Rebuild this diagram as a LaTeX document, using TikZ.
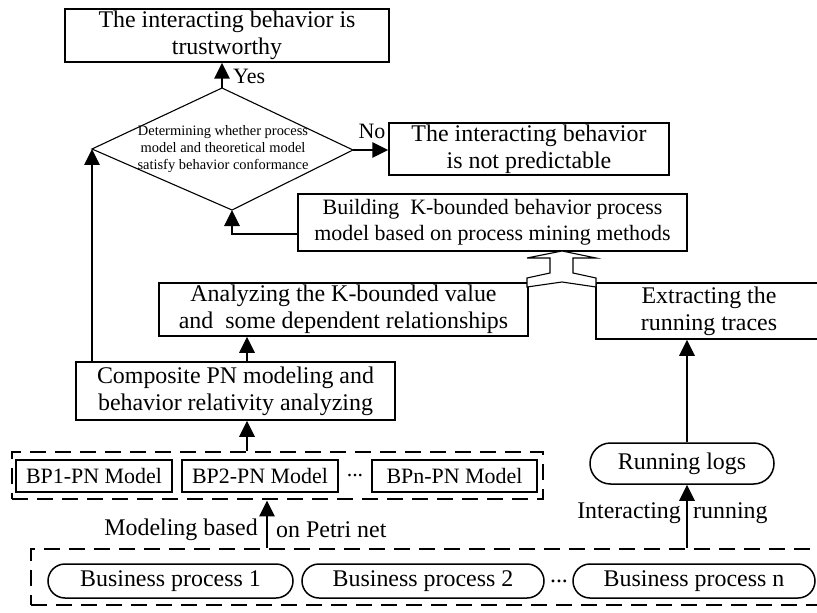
\documentclass[tikz,border=0pt]{standalone}
\usepackage{fontspec}
\setmainfont{Liberation Serif}
\usetikzlibrary{arrows.meta,shapes.misc,calc}
\begin{document}
\begin{tikzpicture}[x=1bp,y=-1bp,
  box/.style={draw, line width=1.5bp, inner sep=0pt, align=center, font=\fontsize{24}{27}\selectfont},
  smallbox/.style={box, font=\fontsize{22}{26}\selectfont},
  pill/.style={box, rounded rectangle},
  grp/.style={draw, line width=2.8bp, dash pattern=on 16bp off 9bp, inner sep=0pt},
  arr/.style={line width=2.8bp, -{Triangle[width=15bp,length=16bp]}},
  lbl/.style={inner sep=0pt, font=\fontsize{24}{27}\selectfont},
  slbl/.style={inner sep=0pt, font=\fontsize{22}{26}\selectfont}]
\useasboundingbox (0,0) rectangle (817,613);

% top decision area
\node[box, minimum width=324bp, minimum height=53bp] (top) at (227,35.5) {The interacting behavior is\\trustworthy};
\coordinate (dT) at (222,88);
\coordinate (dR) at (353,150);
\coordinate (dB) at (232,210);
\coordinate (dL) at (92,149);
\draw[line width=1.1bp] (dT) -- (dR) -- (dB) -- (dL) -- cycle;
\node[inner sep=0pt, align=center, font=\fontsize{14.5}{17.5}\selectfont] (dtx) at (223,149) {Determining whether process\\model and theoretical model\\satisfy behavior conformance};
\node[box, minimum width=280bp, minimum height=52bp] (np) at (529,149) {The interacting behavior\\is not predictable};
\node[smallbox, minimum width=389bp, minimum height=57bp] (bld) at (492.5,222.5) {Building\ \ K-bounded behavior process\\model based on process mining methods};

% middle
\node[box, minimum width=369bp, minimum height=53bp] (ana) at (343.5,309.5) {Analyzing the K-bounded value\\and\ \ some dependent relationships};
\node[box, minimum width=226bp, minimum height=56bp] (ext) at (709,311) {Extracting the\\running traces};
\node[box, minimum width=319bp, minimum height=58bp] (comp) at (235.5,391) {Composite PN modeling and\\behavior relativity analyzing};

% hollow merge arrow
\draw[line width=1.1bp, fill=white] (527,258) -- (550,258) -- (550,273) -- (527,278) -- (527,287) -- (562,282) -- (596,287) -- (596,278) -- (573,273) -- (573,258) -- (596,258) -- (562,251) -- cycle;

% PN models group
\node[grp, minimum width=531bp, minimum height=47bp] (grp1) at (277.5,475.5) {};
\node[smallbox, minimum width=156bp, minimum height=32bp] (m1) at (94,476) {BP1-PN Model};
\node[smallbox, minimum width=156bp, minimum height=32bp] (m2) at (260,476) {BP2-PN Model};
\node[slbl] (mdots) at (355,476) {...};
\node[smallbox, minimum width=165bp, minimum height=32bp] (mn) at (454.5,476) {BPn-PN Model};

% running logs
\node[pill, minimum width=184bp, minimum height=41bp] (logs) at (682,463.5) {Running logs};

% business processes group
\node[grp, minimum width=799bp, minimum height=56bp] (grp2) at (430.5,577) {};
\node[pill, minimum width=245bp, minimum height=34bp] (b1) at (170.5,581) {Business process 1};
\node[pill, minimum width=242bp, minimum height=34bp] (b2) at (423,581) {Business process 2};
\node[lbl] (bdots) at (559,581) {...};
\node[pill, minimum width=242bp, minimum height=34bp] (bn) at (694,581) {Business process n};

% connectors
\draw[arr] (dT) -- (dT |- top.south);
\node[slbl, anchor=west] (yes) at (233,76) {Yes};
\draw[arr] (dR) -- (dR -| np.west);
\node[slbl] (no) at (372,131) {No};
\draw[arr] ([yshift=-11.5bp]bld.west) -| (dB);
\draw[arr] (dL |- comp.north) -- (dL);
\draw[arr] ([xshift=11.5bp]comp.north) -- ([xshift=11.5bp]comp.north |- ana.south);
\draw[arr] ([xshift=-30.5bp]grp1.north) -- ([xshift=-30.5bp]grp1.north |- comp.south);
\draw[arr] ([xshift=-163.5bp]grp2.north) -- ([xshift=-163.5bp]grp2.north |- grp1.south);
\node[lbl, anchor=east] (mb) at (258,530) {Modeling based};
\node[lbl, anchor=west] (opn) at (276,530) {on Petri net};
\draw[arr] ([xshift=256.5bp]grp2.north) -- ([xshift=256.5bp]grp2.north |- logs.south);
\node[lbl, anchor=east] (ir) at (681,513) {Interacting};
\node[lbl, anchor=west] (rn) at (693,513) {running};
\draw[arr] ([xshift=5bp]logs.north) -- ([xshift=5bp]logs.north |- ext.south);
\end{tikzpicture}
\end{document}
